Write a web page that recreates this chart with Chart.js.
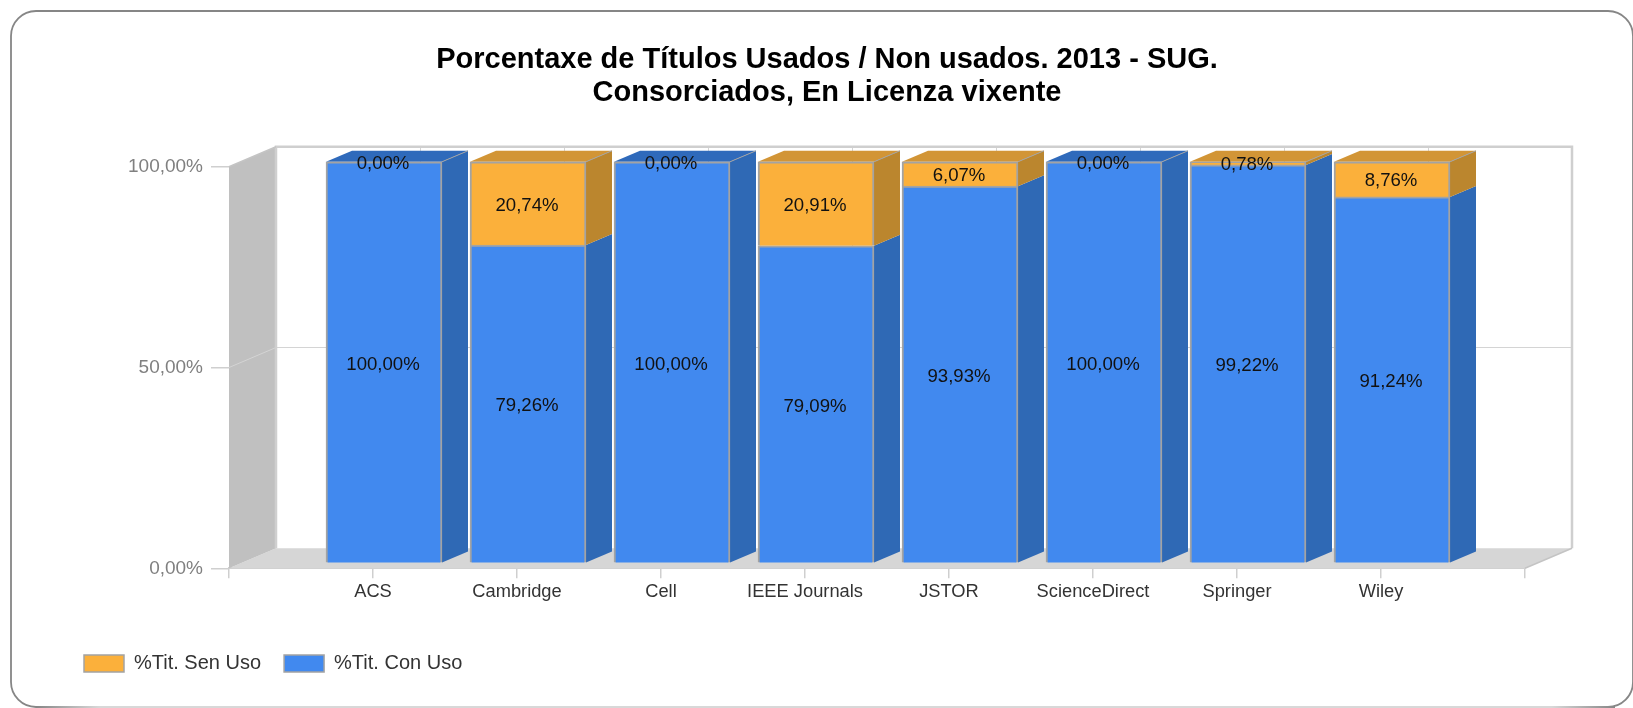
<!DOCTYPE html>
<html><head><meta charset="utf-8">
<style>html,body{margin:0;padding:0;background:#fff}canvas{display:block;filter:blur(0.5px)}</style>
<script src="https://cdn.jsdelivr.net/npm/chart.js@4/dist/chart.umd.js"></script>
</head><body><canvas id="c" width="1633" height="708"></canvas>
<script>
const categories=['ACS','Cambridge','Cell','IEEE Journals','JSTOR','ScienceDirect','Springer','Wiley'];
const conUso=[100,79.26,100,79.09,93.93,100,99.22,91.24];
const senUso=[0,20.74,0,20.91,6.07,0,0.78,8.76];
const titleLines=['Porcentaxe de Títulos Usados / Non usados. 2013 - SUG.','Consorciados, En Licenza vixente'];
const seriesNames=['%Tit. Con Uso','%Tit. Sen Uso'];
const axisLabels=['',...categories,''];
const fmt=v=>v.toFixed(2).replace('.',',')+'%';
const FONT='"Liberation Sans", Arial, sans-serif';
const BLUE='#4189EF',BLUE_SIDE='#2F69B5',BLUE_TOP='#2F6ABB',OR='#FBB03B',OR_SIDE='#BB862E',OR_TOP='#D29536',EDGE='#A3A3A3';
const WALL_DX=47,WALL_DY=20,BAR_DX=11,BAR_DY=5,SIDE_DX=26,SIDE_DY=11;
function poly(ctx,pts,fill,stroke,lw){ctx.beginPath();pts.forEach((p,i)=>i?ctx.lineTo(p[0],p[1]):ctx.moveTo(p[0],p[1]));ctx.closePath();
 if(fill){ctx.fillStyle=fill;ctx.fill();} if(stroke){ctx.strokeStyle=stroke;ctx.lineWidth=lw||1;ctx.stroke();}}
const scene={id:'scene',
 beforeDraw(chart){const ctx=chart.ctx;
  ctx.save();
  ctx.beginPath();ctx.roundRect(11,11,1622,696,25);
  ctx.fillStyle='#fff';ctx.fill();
  ctx.strokeStyle='#868686';ctx.lineWidth=1.8;ctx.stroke();
  const g=ctx.createLinearGradient(36,0,1615,0);
  g.addColorStop(0,'#868686');g.addColorStop(0.04,'#d8d8d8');g.addColorStop(0.96,'#d8d8d8');g.addColorStop(1,'#868686');
  ctx.strokeStyle=g;ctx.lineWidth=2.2;ctx.beginPath();ctx.moveTo(36,707);ctx.lineTo(1615,707);ctx.stroke();
  ctx.restore();},
 afterLayout(chart){const l=chart.legend;const w=l.width;l.left=61;l.right=61+w;l.top=630.5;l.bottom=630.5+l.height;},
 beforeDatasetsDraw(chart){const ctx=chart.ctx,x=chart.scales.x,y=chart.scales.y;
  const L=x.getPixelForValue(0),R=x.getPixelForValue(9),T=y.getPixelForValue(100),B=y.getPixelForValue(0);
  ctx.save();
  poly(ctx,[[L,B],[L+WALL_DX,B-WALL_DY],[R+WALL_DX,B-WALL_DY],[R,B]],'#D6D6D6');
  poly(ctx,[[L,T],[L+WALL_DX,T-WALL_DY],[L+WALL_DX,B-WALL_DY],[L,B]],'#C0C0C0');
  ctx.strokeStyle='#D4D4D4';ctx.lineWidth=1;
  for(let i=1;i<9;i++){const px=Math.round(x.getPixelForValue(i))+WALL_DX+.5;ctx.beginPath();ctx.moveTo(px,T-WALL_DY);ctx.lineTo(px,B-WALL_DY);ctx.stroke();}
  const m=Math.round(y.getPixelForValue(50))-.5;
  ctx.beginPath();ctx.moveTo(L,m);ctx.lineTo(L+WALL_DX,m-WALL_DY);ctx.lineTo(R+WALL_DX,m-WALL_DY);ctx.stroke();
  ctx.strokeStyle='#CFCFCF';ctx.lineWidth=2.5;
  ctx.beginPath();ctx.moveTo(L+WALL_DX,B-WALL_DY);ctx.lineTo(L+WALL_DX,T-WALL_DY);ctx.lineTo(R+WALL_DX,T-WALL_DY);ctx.lineTo(R+WALL_DX,B-WALL_DY);ctx.stroke();
  ctx.strokeStyle='#C4C4C4';ctx.lineWidth=1.5;
  ctx.beginPath();ctx.moveTo(L,T);ctx.lineTo(L+WALL_DX,T-WALL_DY);ctx.moveTo(R,B);ctx.lineTo(R+WALL_DX,B-WALL_DY);ctx.stroke();
  ctx.restore();
  ctx.save();ctx.translate(BAR_DX,-BAR_DY);
  const m0=chart.getDatasetMeta(0).data,m1=chart.getDatasetMeta(1).data;
  categories.forEach((c,i)=>{const a=m0[i+1],b=m1[i+1];
   const xr=a.x+a.width/2,xl=a.x-a.width/2;
   poly(ctx,[[xr,a.y],[xr+SIDE_DX,a.y-SIDE_DY],[xr+SIDE_DX,a.base-SIDE_DY],[xr,a.base]],BLUE_SIDE);
   if(senUso[i]>0)poly(ctx,[[xr,b.y],[xr+SIDE_DX,b.y-SIDE_DY],[xr+SIDE_DX,b.base-SIDE_DY],[xr,b.base]],OR_SIDE);
   const t=senUso[i]>0?b.y:a.y;
   poly(ctx,[[xl,t],[xl+SIDE_DX,t-SIDE_DY],[xr+SIDE_DX,t-SIDE_DY],[xr,t]],senUso[i]>0?OR_TOP:BLUE_TOP);
   ctx.strokeStyle=EDGE;ctx.lineWidth=1;ctx.beginPath();ctx.moveTo(xr,t);ctx.lineTo(xr+SIDE_DX,t-SIDE_DY);ctx.stroke();
  });
 },
 afterDatasetsDraw(chart){const ctx=chart.ctx;
  const m0=chart.getDatasetMeta(0).data,m1=chart.getDatasetMeta(1).data;
  ctx.fillStyle='#111';ctx.font='18.6px '+FONT;ctx.textAlign='center';ctx.textBaseline='middle';
  categories.forEach((c,i)=>{const a=m0[i+1],b=m1[i+1];
   ctx.fillText(fmt(conUso[i]),a.x-1,(a.y+a.base)/2+2.5);
   ctx.fillText(fmt(senUso[i]),b.x-1,(b.y+b.base)/2+2);
  });
  ctx.restore();}
};
new Chart(document.getElementById('c'),{type:'bar',plugins:[scene],
 data:{labels:axisLabels,datasets:[
  {label:seriesNames[0],data:[null,...conUso,null],backgroundColor:BLUE,borderColor:EDGE,borderWidth:2,barThickness:116,clip:false},
  {label:seriesNames[1],data:[null,...senUso,null],backgroundColor:OR,borderColor:EDGE,borderWidth:2,barThickness:116,clip:false}
 ]},
 options:{responsive:false,animation:false,devicePixelRatio:1,events:[],
  layout:{padding:{left:129,right:108,top:43,bottom:46.7}},
  plugins:{
   tooltip:{enabled:false},
   title:{display:true,text:titleLines,color:'#000',font:{family:FONT,size:29,weight:'bold',lineHeight:1.16},padding:{top:0,bottom:56.5}},
   legend:{position:'bottom',align:'start',labels:{boxWidth:40,boxHeight:17,padding:23,color:'#333',font:{family:FONT,size:20},
     generateLabels(chart){return chart.data.datasets.map((d,i)=>({text:d.label,fillStyle:d.backgroundColor,strokeStyle:EDGE,lineWidth:1.5,datasetIndex:i,hidden:false,fontColor:'#333'})).reverse();}}}
  },
  scales:{
   x:{type:'category',offset:false,stacked:true,afterFit(s){s.height=40;},
      grid:{offset:false,drawOnChartArea:false,drawTicks:true,tickLength:10,color:'#CFCFCF',lineWidth:1.5},
      border:{display:true,color:'#CFCFCF',width:2},
      ticks:{autoSkip:false,maxRotation:0,padding:3,color:'#333',font:{family:FONT,size:18.3}}},
   y:{min:0,max:100,stacked:true,afterFit(s){s.width=100;},
      grid:{drawOnChartArea:false,drawTicks:true,tickLength:18,color:'#CFCFCF',lineWidth:1.5},
      border:{display:false},
      ticks:{stepSize:50,padding:8,color:'#808080',font:{family:FONT,size:19},callback:v=>fmt(v)}}
  }
 }
});
</script></body></html>
